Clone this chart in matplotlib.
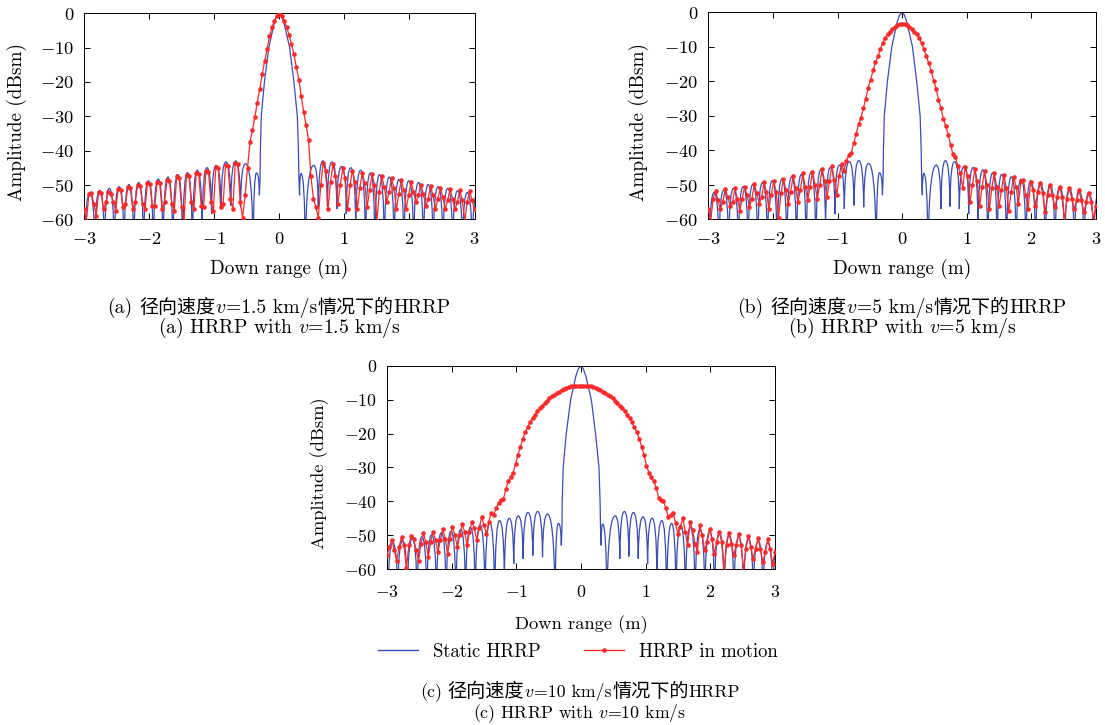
import numpy as np
import matplotlib
matplotlib.use('Agg')
import matplotlib.pyplot as plt
from matplotlib.path import Path
from matplotlib.patches import PathPatch
from matplotlib.lines import Line2D

plt.rcParams['font.family'] = ['cmr10', 'Noto Sans CJK SC']
plt.rcParams['mathtext.fontset'] = 'cm'
plt.rcParams['axes.formatter.use_mathtext'] = True
plt.rcParams['axes.unicode_minus'] = True

BLUE = '#3a4db2'
RED = '#fa2a2a'

# ---------------- data ----------------
x_ticks = [-3, -2, -1, 0, 1, 2, 3]
y_ticks = [-60, -50, -40, -30, -20, -10, 0]

# Static HRRP (same in all panels): sidelobe peaks, nulls and the main lobe
static_peak_x = [-3.06, -2.91, -2.76, -2.61, -2.46, -2.31, -2.16, -2.01, -1.86, -1.71,
                 -1.56, -1.41, -1.26, -1.11, -0.97, -0.82, -0.67, -0.52, -0.35,
                 0.335, 0.53, 0.67, 0.81, 0.96, 1.10, 1.25, 1.40, 1.54, 1.69,
                 1.84, 1.99, 2.14, 2.29, 2.44, 2.59, 2.74, 2.89, 3.04]
static_peak_db = [-52.6, -52.2, -51.6, -51.0, -50.5, -49.9, -49.3, -48.8, -48.3, -47.7,
                  -47.0, -46.4, -45.7, -45.0, -44.3, -43.3, -43.0, -43.8, -46.5,
                  -46.7, -44.3, -43.0, -43.3, -44.6, -45.0, -45.7, -46.5, -47.0, -47.7,
                  -48.4, -48.8, -49.3, -49.9, -50.5, -51.0, -51.7, -52.2, -52.6]
static_null_x = [-2.985, -2.835, -2.685, -2.535, -2.385, -2.235, -2.085, -1.935, -1.785, -1.635,
                 -1.485, -1.335, -1.185, -1.04, -0.895, -0.745, -0.595, -0.40, -0.305,
                 0.312, 0.40, 0.60, 0.74, 0.885, 1.03, 1.175, 1.325, 1.47, 1.615,
                 1.765, 1.915, 2.065, 2.215, 2.365, 2.515, 2.665, 2.815, 2.965]
static_null_db = [-70, -70, -70, -70, -70, -70, -70, -70, -70, -70,
                  -70, -70, -63, -58.5, -57, -56, -56.5, -70, -53,
                  -53, -70, -57, -56.3, -57, -58.5, -63, -70, -70, -70,
                  -70, -70, -70, -70, -70, -70, -70, -70, -70]
static_main_x = [-0.295, -0.29, -0.276, -0.228, -0.16, -0.08, -0.04, 0.0,
                 0.035, 0.075, 0.16, 0.225, 0.278, 0.295, 0.302]
static_main_db = [-48, -40, -30, -20, -10, -3, -0.8, 0.0,
                  -0.8, -3, -10, -20, -30, -40, -48]

# HRRP in motion, sampled on a uniform down-range grid from -3 m to 3 m
motion_a = [
    -57, -60.5, -52.5, -52.2, -55.5, -59, -52, -52.3, -57, -55,
    -52, -52.5, -55, -57.5, -51.2, -51.5, -56.5, -55.5, -50.6, -51,
    -57, -55, -50, -50.3, -55.5, -57, -49.4, -49.8, -56, -56,
    -49, -49.3, -57, -55, -48.5, -48.8, -55.5, -57.5, -47.5, -47.9,
    -56.5, -60.5, -47, -47.3, -55, -57, -46.5, -46.8, -56, -56.5,
    -45.8, -46.1, -55, -57.5, -44.8, -45.1, -56.5, -55.5, -44.1, -44.4,
    -54, -57, -43.5, -43.8, -55, -59.5, -53, -45, -37.5, -34.0,
    -30.2, -26.0, -22.0, -17.8, -14.0, -10.5, -6.7, -4.1, -2.2, -0.7,
    0.0, -0.8, -2.2, -4.0, -6.2, -8.9, -11.9, -15.6, -19.3, -24.0,
    -28.7, -32.5, -37.0, -47.5, -54, -56.5, -59.5, -50, -43.5, -46,
    -57, -49, -43.9, -47.5, -55.5, -50, -45.2, -48, -57, -50,
    -45.8, -49, -57, -51, -46.4, -49.5, -56.5, -51.5, -46.8, -50,
    -60.5, -52, -47.4, -50.5, -55, -52, -48.1, -51, -57, -52.5,
    -48.6, -51.5, -57, -53, -49.2, -52, -55, -53, -49.9, -52.5,
    -56, -54, -50.4, -53, -57, -54, -50.8, -53.5, -57, -54.5,
    -51.1, -54, -57, -55, -51.5, -54.5, -60.5, -55, -51.8, -54.5,
    -57]
motion_b = [
    -57, -60.5, -54, -51.7, -54.5, -57, -55, -51.2, -53.5, -56,
    -55, -51.0, -54, -57.5, -54, -50.5, -53, -56.5, -54, -49.9,
    -52.5, -55.5, -53.5, -49.3, -52, -57, -53, -48.8, -52, -59.5,
    -52.5, -48.3, -51.5, -55.5, -52, -47.4, -51, -55, -51.5, -46.7,
    -50.5, -54.5, -50.5, -46.2, -50, -54, -50, -45.5, -49, -53.5,
    -49, -44.5, -48.5, -53, -47.5, -44.0, -46.0, -43.0, -41.4, -40.8,
    -38.0, -35.2, -32.5, -30.6, -27.8, -25.0, -21.8, -19.5, -16.8, -14.5,
    -12.7, -10.7, -8.8, -7.4, -6.3, -5.6, -4.9, -4.3, -3.8, -3.5,
    -3.4, -3.5, -3.8, -4.3, -4.9, -5.6, -6.4, -7.4, -8.8, -10.7,
    -12.7, -14.8, -17.0, -19.8, -22.2, -25.3, -27.8, -30.8, -33.0, -35.5,
    -38.6, -41.2, -42.0, -44.5, -46.5, -51, -44.8, -47.5, -55, -50,
    -45.5, -49, -56, -50.5, -46.0, -50, -57, -51, -46.5, -50.5,
    -56, -51.5, -47.1, -51, -57.5, -52, -47.7, -50.5, -55.5, -49,
    -48.6, -53, -57, -49.2, -51.5, -56, -52, -49.6, -52.5, -58,
    -53, -50.0, -53, -56.5, -53.5, -50.5, -53.5, -60.5, -54, -51.0,
    -54, -57, -54.5, -51.6, -54.5, -58, -55, -52.3, -55, -60.5,
    -56]
motion_c = [
    -56, -53.5, -51.4, -54.5, -57.5, -53.5, -50.5, -53, -59.8, -53,
    -50.2, -51, -54.5, -57.5, -52.5, -49.5, -52, -56.5, -52, -49.0,
    -51.5, -55, -51.5, -48.3, -51, -55.5, -51, -47.5, -50, -53.5,
    -50, -46.7, -49, -53, -49, -46.0, -48, -51.5, -48, -44.7,
    -47, -49.8, -46, -43.4, -44.0, -42.0, -40.5, -39.6, -39.3, -36.5,
    -34.0, -32.8, -31.5, -29.0, -26.3, -23.8, -21.5, -19.6, -18.0, -16.6,
    -15.4, -14.4, -13.4, -12.5, -11.7, -10.9, -10.2, -9.6, -9.0, -8.5,
    -8.0, -7.6, -7.2, -6.8, -6.4, -6.1, -5.9, -5.85, -5.8, -5.8,
    -5.8, -5.8, -5.8, -5.85, -5.9, -6.1, -6.4, -6.8, -7.2, -7.6,
    -8.0, -8.5, -9.0, -9.6, -10.2, -10.9, -11.7, -12.5, -13.4, -14.4,
    -15.4, -16.6, -18.0, -19.6, -21.5, -23.8, -26.3, -29.5, -31.5, -32.8,
    -34.0, -36.0, -39.0, -39.6, -40.0, -42.0, -44.5, -44.0, -43.4, -46.5,
    -49.8, -47.5, -45.0, -49, -53, -46.0, -48.5, -52.5, -55, -47.0,
    -50, -54.5, -52, -48.3, -51, -55.5, -52, -49.0, -52, -60.5,
    -53, -49.3, -52.5, -56, -53, -49.7, -53, -60.5, -54, -50.2,
    -53.5, -57, -54, -50.9, -54, -58, -55, -51.1, -54, -58.5,
    -55]

panel_tags = ['a', 'b', 'c']
panel_speeds = ['1.5', '5', '10']
panel_motion = [motion_a, motion_b, motion_c]

# ---------------- figure ----------------
W, H = 1105, 725
fig = plt.figure(figsize=(W / 100, H / 100), dpi=100)


def px_axes(l, r, t, b):
    return fig.add_axes([l / W, 1 - b / H, (r - l) / W, (b - t) / H])


ax_a = px_axes(84, 474.5, 13.3, 219.3)
ax_b = px_axes(708.3, 1096, 12.3, 219.3)
ax_c = px_axes(387, 775, 366, 569)
axes = [ax_a, ax_b, ax_c]

# per-panel text styling (sub-figures a/b were scaled a little larger)
tick_fs = [13.3, 13.3, 12.8]
label_fs = [13.8, 13.8, 13.3]
tick_pad = [8.5, 8.5, 11]
xlab_y = [-0.19, -0.19, -0.228]
ylab_x = [-0.145, -0.153, -0.15]
lat_fs = [14.2, 14.2, 12.8]
cjk_fs = [13.7, 13.7, 13.8]
cap_xc = [279, 902, 580]
cap_y1 = [313, 313, 697]
cap_y2 = [333, 333, 718]


def add_static(ax):
    knots = sorted([(x, y, 'n') for x, y in zip(static_null_x, static_null_db)] +
                   [(x, y, 'p') for x, y in zip(static_peak_x, static_peak_db)])
    left = [k for k in knots if k[0] < 0]
    right = [k for k in knots if k[0] > 0]
    verts = [left[0][:2]]
    codes = [Path.MOVETO]

    def arch(a, b):
        x0, y0, k0 = a
        x1, y1, k1 = b
        dx = x1 - x0
        if k0 == 'n':
            c1 = (x0 + 0.08 * dx, y0 + 0.75 * (y1 - y0))
            c2 = (x1 - 0.5 * dx, y1)
        else:
            c1 = (x0 + 0.5 * dx, y0)
            c2 = (x1 - 0.08 * dx, y1 + 0.75 * (y0 - y1))
        verts.extend([c1, c2, (x1, y1)])
        codes.extend([Path.CURVE4] * 3)

    for a, b in zip(left[:-1], left[1:]):
        arch(a, b)
    for x, y in zip(static_main_x, static_main_db):
        verts.append((x, y))
        codes.append(Path.LINETO)
    verts.append(right[0][:2])
    codes.append(Path.LINETO)
    for a, b in zip(right[:-1], right[1:]):
        arch(a, b)
    patch = PathPatch(Path(verts, codes), facecolor='none', edgecolor=BLUE,
                      lw=0.9, transform=ax.transData, zorder=2)
    ax.add_patch(patch)


for k, ax in enumerate(axes):
    motion = panel_motion[k]
    add_static(ax)
    xr = np.linspace(-3, 3, len(motion))
    ax.plot(xr, motion, color=RED, lw=0.9, marker='o', ms=3.3, mew=0, zorder=3)
    ax.set_xlim(-3, 3)
    ax.set_ylim(-60, 0)
    ax.set_xticks(x_ticks)
    ax.set_yticks(y_ticks)
    ax.tick_params(direction='in', top=True, right=True, length=4, width=0.7,
                   labelsize=tick_fs[k])
    ax.tick_params(axis='x', pad=tick_pad[k])
    ax.tick_params(axis='y', pad=7)
    for s in ax.spines.values():
        s.set_linewidth(0.7)
    ax.set_xlabel('Down range (m)', fontsize=label_fs[k])
    ax.xaxis.set_label_coords(0.5, xlab_y[k])
    ax.set_ylabel('Amplitude (dBsm)', fontsize=label_fs[k])
    ax.yaxis.set_label_coords(ylab_x[k], 0.47)

# captions: Chinese line assembled from pieces so that v is italic
renderer = fig.canvas.get_renderer()
for k in range(3):
    tag, v = panel_tags[k], panel_speeds[k]
    L, C = lat_fs[k], cjk_fs[k]
    parts = [('(%s)' % tag, L), ('径向速度', C), ('$v$', L), ('=%s km/s' % v, L),
             ('情况下的', C), ('HRRP', L)]
    texts = [fig.text(0, 1 - cap_y1[k] / H, s, ha='left', va='baseline', fontsize=fs)
             for s, fs in parts]
    widths = [t.get_window_extent(renderer).width for t in texts]
    widths[0] += 0.32 * L * 100 / 72  # word space after "(x)"
    x0 = cap_xc[k] - sum(widths) / 2
    for t, w in zip(texts, widths):
        t.set_x(x0 / W)
        x0 += w
    fig.text(cap_xc[k] / W, 1 - cap_y2[k] / H, '(%s) HRRP with $v$=%s km/s' % (tag, v),
             ha='center', va='baseline', fontsize=L)

handles = [Line2D([], [], color=BLUE, lw=1.0),
           Line2D([], [], color=RED, lw=1.0, marker='o', ms=3.3, mew=0)]
fig.legend(handles, ['Static HRRP', 'HRRP in motion'], loc='center',
           bbox_to_anchor=(578 / W, 1 - 652 / H), ncol=2, frameon=False,
           fontsize=13.5, handlelength=2.15, handletextpad=0.8, columnspacing=2.3)

fig.savefig('out.png', dpi=100)
